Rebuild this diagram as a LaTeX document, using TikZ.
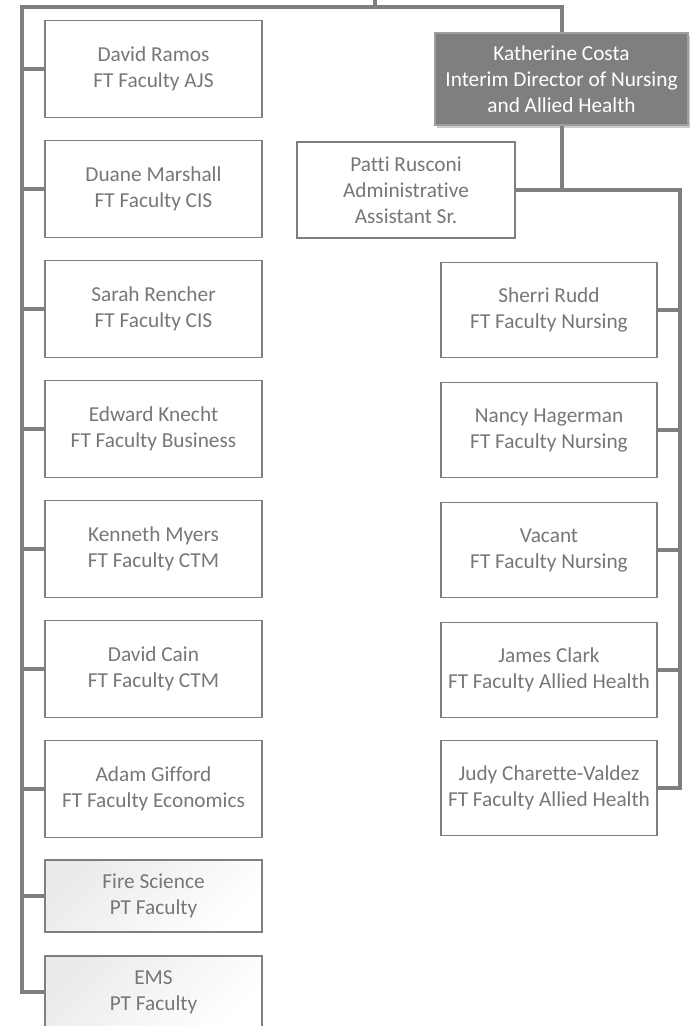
\documentclass[tikz,border=0pt]{standalone}
\usepackage{fontspec}
\setmainfont{Carlito}[Ligatures=NoCommon]
\usetikzlibrary{shadows,calc}
\definecolor{lineg}{HTML}{7F7F7F}
\definecolor{textg}{HTML}{777777}
\begin{document}
\begin{tikzpicture}[x=1pt,y=-1pt,
  box/.style={draw=lineg, line width=1.6pt, fill=white, text=textg, minimum width=217pt, minimum height=97pt, align=center, font=\fontsize{21.3}{26}\selectfont, inner sep=0pt},
  rbox/.style={box, minimum width=216pt, minimum height=95pt},
  ptbox/.style={box, minimum height=72pt, left color=black!8, middle color=white, right color=white, shading angle=45},
  headbox/.style={box, fill=lineg, draw=lineg!75, text=white, minimum width=253pt, minimum height=92pt, drop shadow={shadow xshift=2pt, shadow yshift=-3pt, opacity=0.2, fill=black}},
  conn/.style={draw=lineg, line width=4pt, line join=miter}]
\useasboundingbox (0,0) rectangle (690,1026);
\clip (0,0) rectangle (690,1026);
% left column
\node[box] (dr) at (153.5,69) {David Ramos\\FT Faculty AJS};
\node[box] (dm) at (153.5,189) {Duane Marshall\\FT Faculty CIS};
\node[box] (sre) at (153.5,309) {Sarah Rencher\\FT Faculty CIS};
\node[box] (ek) at (153.5,429) {Edward Knecht\\FT Faculty Business};
\node[box] (km) at (153.5,549) {Kenneth Myers\\FT Faculty CTM};
\node[box] (dc) at (153.5,669) {David Cain\\FT Faculty CTM};
\node[box] (ag) at (153.5,789) {Adam Gifford\\FT Faculty Economics};
\node[ptbox] (fs) at (153.5,896) {Fire Science\\PT Faculty};
\node[ptbox] (ems) at (153.5,992) {EMS\\PT Faculty};
% head and assistant
\node[headbox] (kc) at (561.5,79) {Katherine Costa\\Interim Director of Nursing\\and Allied Health};
\node[box, minimum width=218pt, minimum height=96pt] (pr) at (406,190) {Patti Rusconi\\Administrative\\Assistant Sr.};
% right column
\node[rbox] (sru) at (549,310) {Sherri Rudd\\FT Faculty Nursing};
\node[rbox] (nh) at (549,430) {Nancy Hagerman\\FT Faculty Nursing};
\node[rbox] (va) at (549,550) {Vacant\\FT Faculty Nursing};
\node[rbox] (jc) at (549,670) {James Clark\\FT Faculty Allied Health};
\node[rbox] (jcv) at (549,788) {Judy Charette-Valdez\\FT Faculty Allied Health};
% trunk coordinates
\coordinate (T) at (375,-5);
\coordinate (L0) at (22,7);
\coordinate (R1) at (680,190);
% connectors
\draw[conn] (T) -- (T |- L0);
\draw[conn] (kc.north) |- (L0) -- (L0 |- ems.west) -- (ems.west);
\foreach \n in {dr,dm,sre,ek,km,dc,ag,fs}{
  \draw[conn] (L0 |- \n.west) -- (\n.west);
}
\draw[conn] (kc.south) -- (kc.south |- R1);
\draw[conn] (pr.east) -- (R1) -- (R1 |- jcv.east) -- (jcv.east);
\foreach \n in {sru,nh,va,jc}{
  \draw[conn] (R1 |- \n.east) -- (\n.east);
}
\end{tikzpicture}
\end{document}
